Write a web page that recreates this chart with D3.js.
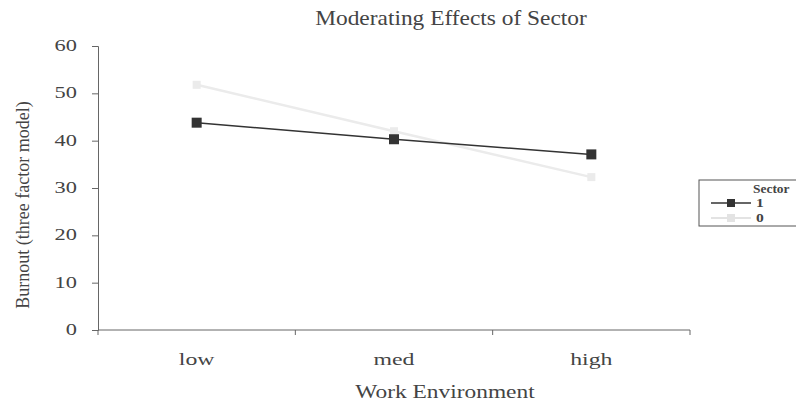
<!DOCTYPE html>
<html>
<head>
<meta charset="utf-8">
<script src="https://cdn.jsdelivr.net/npm/d3@7"></script>
<style>
  body { margin: 0; background: #fff; }
  text { font-family: "Liberation Serif", "DejaVu Serif", serif; fill: #444; }
</style>
</head>
<body>
<div id="chart"></div>
<script>
var categories = ["low", "med", "high"];
var sector1 = [43.8, 40.3, 37.1];
var sector0 = [51.8, 42.0, 32.3];
var yTicks = [0, 10, 20, 30, 40, 50, 60];
var legendLabels = ["1", "0"];

var width = 796, height = 403;
var margin = {left: 98, top: 46, right: 106, bottom: 73};

var svg = d3.select("#chart").append("svg")
    .attr("width", width)
    .attr("height", height);

var x = d3.scalePoint().domain(categories)
    .range([margin.left, width - margin.right]).padding(0.5);
var xBand = d3.scaleBand().domain(categories)
    .range([margin.left, width - margin.right]);
var y = d3.scaleLinear().domain([0, 60])
    .range([height - margin.bottom, margin.top]);

// the original picture is stretched sideways, so text gets a scaleX
function wideText(g, tx, ty, sx, size, str, anchor) {
    return g.append("text")
        .attr("transform", "translate(" + tx + "," + ty + ") scale(" + sx + ",1)")
        .attr("text-anchor", anchor || "middle")
        .style("font-size", size + "px")
        .text(str);
}

// y axis
var yAxis = svg.append("g")
    .attr("transform", "translate(" + margin.left + ",0)")
    .call(d3.axisLeft(y).tickValues(yTicks).tickSize(6).tickFormat(""));
yAxis.select(".domain").attr("stroke", "#666");
yAxis.selectAll(".tick line").attr("stroke", "#666");
yTicks.forEach(function(t){
    wideText(svg, margin.left - 21, y(t) + 5, 1.4, 16, t, "end").attr("fill", "#555");
});

// x axis
var xAxis = svg.append("g")
    .attr("transform", "translate(0," + (height - margin.bottom) + ")");
xAxis.append("line")
    .attr("x1", margin.left).attr("x2", width - margin.right)
    .attr("stroke", "#666");
var bounds = categories.map(function(c){ return xBand(c); }).concat([width - margin.right]);
xAxis.selectAll(".xt").data(bounds).enter().append("line")
    .attr("x1", function(d){ return d; }).attr("x2", function(d){ return d; })
    .attr("y1", 0).attr("y2", 5).attr("stroke", "#666");
categories.forEach(function(c){
    wideText(xAxis, x(c), 35, 1.4, 17, c).attr("fill", "#555");
});

// title and labels
wideText(svg, 451, 25, 1.17, 20, "Moderating Effects of Sector");
wideText(svg, 445, 398, 1.3, 18, "Work Environment");
svg.append("text")
    .attr("transform", "translate(29,205) rotate(-90)")
    .attr("text-anchor", "middle").style("font-size", "18px")
    .text("Burnout (three factor model)");

var line = d3.line()
    .x(function(d, i){ return x(categories[i]); })
    .y(function(d){ return y(d); });

// sector 0 (light)
svg.append("path").datum(sector0)
    .attr("d", line).attr("fill", "none")
    .attr("stroke", "#ebebeb").attr("stroke-width", 2.5);
svg.selectAll(".m0").data(sector0).enter().append("rect")
    .attr("x", function(d, i){ return x(categories[i]) - 4; })
    .attr("y", function(d){ return y(d) - 4; })
    .attr("width", 8).attr("height", 8)
    .attr("fill", "#ebebeb");

// sector 1 (dark)
svg.append("path").datum(sector1)
    .attr("d", line).attr("fill", "none")
    .attr("stroke", "#333").attr("stroke-width", 1.5);
svg.selectAll(".m1").data(sector1).enter().append("rect")
    .attr("x", function(d, i){ return x(categories[i]) - 5; })
    .attr("y", function(d){ return y(d) - 5; })
    .attr("width", 10).attr("height", 10)
    .attr("fill", "#333");

// legend
var lg = svg.append("g").attr("transform", "translate(699,180)");
lg.append("rect").attr("width", 110).attr("height", 46)
    .attr("fill", "#fff").attr("stroke", "#555");
wideText(lg, 54, 13, 1.12, 12, "Sector", "start").style("font-weight", "bold");
var legColors = ["#333", "#e3e3e3"];
legendLabels.forEach(function(lab, i){
    var yy = 23 + i * 15;
    lg.append("line").attr("x1", 12).attr("x2", 52)
        .attr("y1", yy).attr("y2", yy)
        .attr("stroke", legColors[i]).attr("stroke-width", i === 0 ? 1.5 : 2);
    lg.append("rect").attr("x", 28).attr("y", yy - 4)
        .attr("width", 8).attr("height", 8).attr("fill", legColors[i]);
    wideText(lg, 57, yy + 4, 1.3, 12, lab, "start").style("font-weight", "bold");
});
</script>
</body>
</html>
